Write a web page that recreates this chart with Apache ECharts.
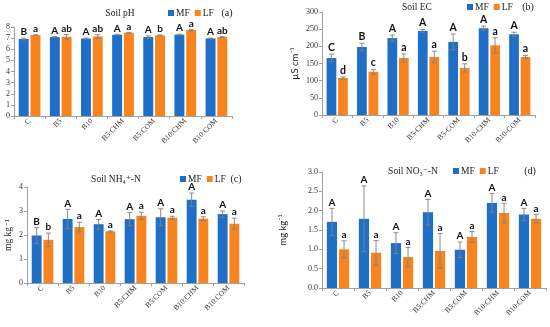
<!DOCTYPE html>
<html>
<head>
<meta charset="utf-8">
<script src="https://cdn.jsdelivr.net/npm/echarts@6/dist/echarts.min.js"></script>
<style>html,body{margin:0;padding:0;background:#fff}#c{width:550px;height:327px}</style>
</head>
<body>
<div id="c"></div>
<script>
// ---------- data ----------
const catsColon = ['C', 'B5', 'B10', 'B5:CHM', 'B5:COM', 'B10:CHM', 'B10:COM'];
const catsDash  = ['C', 'B5', 'B10', 'B5-CHM', 'B5-COM', 'B10-CHM', 'B10-COM'];

const phMF    = [6.92, 7.10, 6.96, 7.30, 7.10, 7.31, 6.97];
const phMFerr = [0.08, 0.04, 0.05, 0.04, 0.10, 0.04, 0.03];
const phLF    = [7.27, 7.12, 7.15, 7.48, 7.24, 7.72, 7.10];
const phLFerr = [0.03, 0.20, 0.15, 0.04, 0.05, 0.06, 0.03];
const phMFlet = ['B', 'A', 'A', 'A', 'A', 'A', 'A'];
const phLFlet = ['a', 'ab', 'ab', 'a', 'b', 'a', 'ab'];

const ecMF    = [166, 198, 224, 245, 213, 253, 235];
const ecMFerr = [11, 11, 9, 4, 23, 6, 6];
const ecLF    = [108, 126, 166, 169, 137, 203, 169];
const ecLFerr = [3, 7, 12, 17, 12, 22, 4];
const ecMFlet = ['C', 'B', 'A', 'A', 'A', 'A', 'A'];
const ecLFlet = ['d', 'c', 'a', 'a', 'b', 'a', 'a'];

const nhMF    = [1.98, 2.67, 2.45, 2.66, 2.74, 3.47, 2.87];
const nhMFerr = [0.33, 0.40, 0.20, 0.27, 0.35, 0.28, 0.13];
const nhLF    = [1.80, 2.33, 2.15, 2.80, 2.72, 2.68, 2.47];
const nhLFerr = [0.28, 0.20, 0.02, 0.15, 0.06, 0.08, 0.23];
const nhMFlet = ['B', 'A', 'A', 'A', 'A', 'A', 'A'];
const nhLFlet = ['b', 'a', 'a', 'a', 'a', 'a', 'a'];

const noMF    = [1.71, 1.79, 1.16, 1.96, 0.99, 2.20, 1.90];
const noMFerr = [0.35, 0.85, 0.27, 0.33, 0.20, 0.24, 0.16];
const noLF    = [1.00, 0.91, 0.80, 0.96, 1.32, 1.94, 1.79];
const noLFerr = [0.22, 0.32, 0.25, 0.45, 0.14, 0.25, 0.11];
const noMFlet = ['A', 'A', 'A', 'A', 'A', 'A', 'A'];
const noLFlet = ['a', 'a', 'a', 'a', 'a', 'a', 'a'];

// ---------- style ----------
const SERIF = "'Liberation Serif', 'DejaVu Serif', serif";
const SANS = "Lato, 'Liberation Sans', sans-serif";
const BLUE = '#1f6fc6';
const ORANGE = '#f7841f';
const AXIS = '#a0a0a0';
const BARW = 0.32, GAPR = 0.18;

const panels = [
  {cats: catsColon, mf: phMF, mfE: phMFerr, lf: phLF, lfE: phLFerr, mfL: phMFlet, lfL: phLFlet,
   grid: {left: 14, top: 27, width: 218, height: 89}, max: 8, interval: 1, dec: 0,
   title: 'Soil pH', tag: '(a)', tx: 120, ty: 13, lgx: 168, tagx: 227, name: '', nameGap: 0, nameFont: SERIF, letFs: 10},
  {cats: catsDash, mf: ecMF, mfE: ecMFerr, lf: ecLF, lfE: ecLFerr, mfL: ecMFlet, lfL: ecLFlet,
   grid: {left: 322, top: 12, width: 213, height: 103}, max: 300, interval: 50, dec: 0,
   title: 'Soil EC', tag: '(b)', tx: 417, ty: 7, lgx: 467, tagx: 528, name: 'µS cm⁻¹', nameGap: 22, nameFont: SANS, letFs: 10.5},
  {cats: catsColon, mf: nhMF, mfE: nhMFerr, lf: nhLF, lfE: nhLFerr, mfL: nhMFlet, lfL: nhLFlet,
   grid: {left: 27, top: 187, width: 217, height: 96}, max: 4, interval: 1, dec: 0,
   title: 'Soil NH₄⁺-N', tag: '(c)', tx: 116, ty: 179, lgx: 180, tagx: 236, name: 'mg kg⁻¹', nameGap: 14, nameFont: SERIF, letFs: 10},
  {cats: catsColon, mf: noMF, mfE: noMFerr, lf: noLF, lfE: noLFerr, mfL: noMFlet, lfL: noLFlet,
   grid: {left: 322, top: 172, width: 224, height: 116}, max: 3, interval: 0.5, dec: 1,
   title: 'Soil NO₃⁻-N', tag: '(d)', tx: 413, ty: 171, lgx: 453, tagx: 530, name: 'mg kg⁻¹', nameGap: 34, nameFont: SANS, letFs: 10}
];

function errRender(errArr, letters, side, fs) {
  return function (params, api) {
    const i = params.dataIndex;
    const cat = api.value(0), v = api.value(1);
    const e = errArr[i];
    const band = api.size([1, 0])[0];
    const bw = band * BARW, gap = bw * GAPR;
    const off = side * (bw + gap) / 2;
    const pt = api.coord([cat, v + e]);
    const pb = api.coord([cat, v - e]);
    const x = pt[0] + off;
    const cap = 2.5;
    const st = {stroke: '#808080', lineWidth: 0.9};
    return {
      type: 'group',
      children: [
        {type: 'line', shape: {x1: x, y1: pt[1], x2: x, y2: pb[1]}, style: st},
        {type: 'line', shape: {x1: x - cap, y1: pt[1], x2: x + cap, y2: pt[1]}, style: st},
        {type: 'line', shape: {x1: x - cap, y1: pb[1], x2: x + cap, y2: pb[1]}, style: st},
        {type: 'text', style: {text: letters[i], x: x, y: pt[1] - 1, align: 'center', verticalAlign: 'bottom',
          fontSize: fs, fontFamily: SANS, fontWeight: 'bold', fill: '#111'}}
      ]
    };
  };
}

const option = {
  animation: false,
  backgroundColor: '#fff',
  grid: [], xAxis: [], yAxis: [], series: [], legend: [], graphic: []
};

panels.forEach((p, k) => {
  option.grid.push(Object.assign({containLabel: false}, p.grid));
  option.xAxis.push({
    type: 'category', gridIndex: k, data: p.cats,
    axisLine: {lineStyle: {color: AXIS, width: 1}},
    axisTick: {show: true, length: 3, lineStyle: {color: AXIS}},
    axisLabel: {rotate: 45, fontSize: 7.5, fontFamily: SERIF, color: '#333', margin: 4}
  });
  option.yAxis.push({
    type: 'value', gridIndex: k, min: 0, max: p.max, interval: p.interval,
    name: p.name, nameLocation: 'middle', nameGap: p.nameGap,
    nameTextStyle: {fontSize: 9.5, fontFamily: p.nameFont, color: '#222'},
    axisLine: {show: true, lineStyle: {color: AXIS, width: 1}},
    axisTick: {show: true, length: 3, lineStyle: {color: AXIS}},
    splitLine: {show: false},
    axisLabel: {fontSize: 8, fontFamily: SERIF, color: '#333', margin: 4,
      formatter: v => v.toFixed(p.dec)}
  });
  option.series.push({
    name: 'MF', type: 'bar', xAxisIndex: k, yAxisIndex: k, data: p.mf,
    barWidth: (BARW * 100) + '%', barGap: (GAPR * 100) + '%',
    itemStyle: {color: BLUE}
  });
  option.series.push({
    name: 'LF', type: 'bar', xAxisIndex: k, yAxisIndex: k, data: p.lf,
    barWidth: (BARW * 100) + '%', barGap: (GAPR * 100) + '%',
    itemStyle: {color: ORANGE}
  });
  option.series.push({
    name: 'errMF' + k, type: 'custom', xAxisIndex: k, yAxisIndex: k, z: 5,
    data: p.mf.map((v, i) => [i, v]), renderItem: errRender(p.mfE, p.mfL, -1, p.letFs)
  });
  option.series.push({
    name: 'errLF' + k, type: 'custom', xAxisIndex: k, yAxisIndex: k, z: 5,
    data: p.lf.map((v, i) => [i, v]), renderItem: errRender(p.lfE, p.lfL, 1, p.letFs)
  });
  option.legend.push({
    data: ['MF', 'LF'], left: p.lgx, top: p.ty - 5, icon: 'rect', itemWidth: 6, itemHeight: 6,
    itemGap: 5, padding: 0,
    textStyle: {fontSize: 9.5, fontFamily: SERIF, color: '#222', padding: [0, 0, 0, -3]}
  });
  option.graphic.push({
    type: 'text', x: p.tx, y: p.ty,
    style: {text: p.title, align: 'center', verticalAlign: 'middle', fontSize: 9.5, fontFamily: SERIF, fill: '#222'}
  });
  option.graphic.push({
    type: 'text', x: p.tagx, y: p.ty,
    style: {text: p.tag, align: 'center', verticalAlign: 'middle', fontSize: 10, fontFamily: SERIF, fill: '#222'}
  });
});

const chart = echarts.init(document.getElementById('c'), null, {renderer: 'canvas'});
chart.setOption(option);
</script>
</body>
</html>
